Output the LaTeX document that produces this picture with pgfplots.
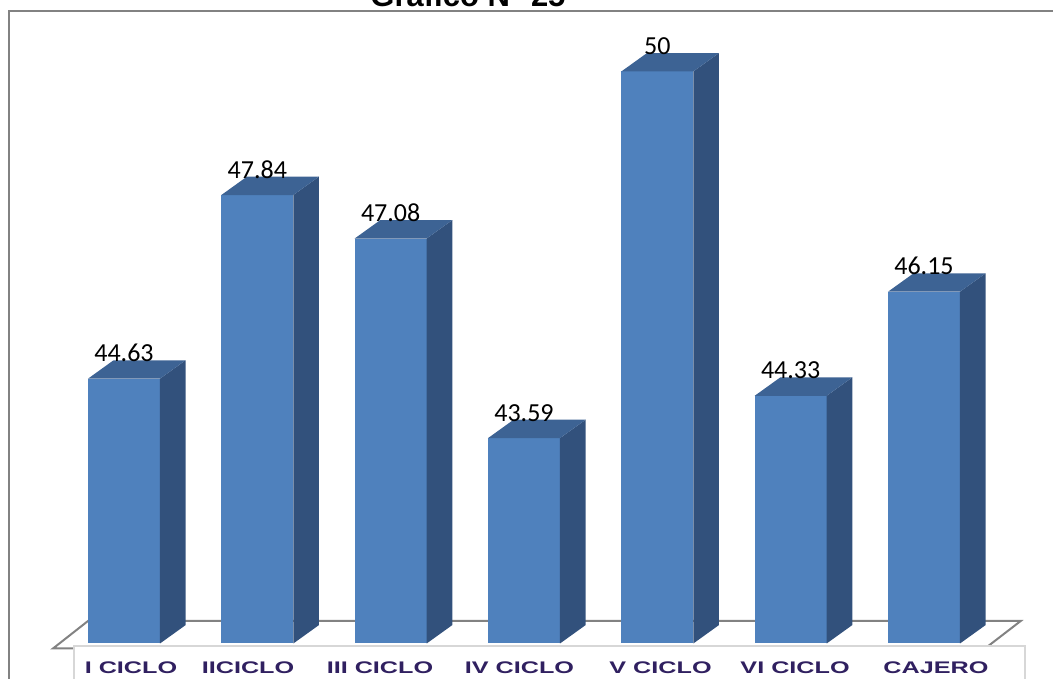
\documentclass[border=0pt]{standalone}
\usepackage{fontspec}
\setmainfont{Carlito}
\newfontfamily\arialfont{Liberation Sans}
\newfontfamily\catfont[FakeStretch=1.5]{Liberation Sans}
\usepackage{pgfplots}
\usepackage{pgfplotstable}
\pgfplotsset{compat=1.18}
\definecolor{frontc}{RGB}{79,129,189}
\definecolor{sidec}{RGB}{50,81,124}
\definecolor{topc}{RGB}{61,99,148}
\definecolor{framec}{RGB}{130,130,130}
\definecolor{boxc}{RGB}{215,215,215}
\definecolor{labelc}{RGB}{48,32,96}
\pgfdeclareplotmark{bar3d}{%
  \pgfmathsetmacro\barh{(\vy-40)*57.2}%
  \pgfmathsetmacro\barhb{18.4-\barh}%
  \pgfsetfillcolor{frontc}%
  \pgfpathrectangle{\pgfpoint{-36pt}{-\barh pt}}{\pgfpoint{72pt}{\barh pt}}\pgfusepath{fill}%
  \pgfsetfillcolor{sidec}%
  \pgfpathmoveto{\pgfpoint{36pt}{-\barh pt}}%
  \pgfpathlineto{\pgfpoint{61.6pt}{\barhb pt}}%
  \pgfpathlineto{\pgfpoint{61.6pt}{18.4pt}}%
  \pgfpathlineto{\pgfpoint{36pt}{0pt}}%
  \pgfpathclose\pgfusepath{fill}%
  \pgfsetfillcolor{topc}%
  \pgfpathmoveto{\pgfpoint{-36pt}{0pt}}%
  \pgfpathlineto{\pgfpoint{-10.4pt}{18.4pt}}%
  \pgfpathlineto{\pgfpoint{61.6pt}{18.4pt}}%
  \pgfpathlineto{\pgfpoint{36pt}{0pt}}%
  \pgfpathclose\pgfusepath{fill}%
}
\pgfplotstableread{
x v
0 44.63
1 47.84
2 47.08
3 43.59
4 50
5 44.33
6 46.15
}\datatable
\begin{document}
\begin{tikzpicture}
\useasboundingbox (0pt,0pt) rectangle (1053pt,679pt);
% frame
\draw[framec, line width=2pt] (9pt,0pt) -- (9pt,668pt) -- (1053pt,668pt);
% title (partly cut off)
\node[anchor=base, inner sep=0pt, font=\arialfont\bfseries\fontsize{31}{31}\selectfont] at (468pt,672pt) {Gráfico N° 25};
% floor
\draw[framec, line width=2pt, line join=miter] (88pt,58pt) -- (1020.7pt,58pt) -- (985pt,30.5pt) -- (53pt,30.5pt) -- cycle;
% label box
\draw[boxc, fill=white, line width=1.5pt] (74pt,-5pt) rectangle (1025pt,33pt);
\begin{axis}[
  at={(0pt,0pt)}, anchor=south west,
  scale only axis, width=1053pt, height=679pt,
  xmin=-0.93, xmax=6.9675,
  ymin=39.3794, ymax=51.25,
  clip=false,
  axis line style={draw=none},
  major tick length=0pt,
  ytick=\empty,
  xtick={0.0525,0.93,1.92,2.966,4.024,5.033,6.09},
  xticklabels={I CICLO,IICICLO,III CICLO,IV CICLO,V CICLO,VI CICLO,CAJERO},
  xticklabel style={anchor=base, yshift=5.7pt, inner sep=0pt, text=labelc,
    font=\catfont\bfseries\fontsize{16.8}{17}\selectfont},
  /pgf/number format/assume math mode=true,
]
\addplot[only marks, mark=bar3d, black,
  visualization depends on={rawy \as \vy},
  point meta=y,
  nodes near coords,
  every node near coord/.append style={anchor=base, yshift=17pt, inner sep=0pt,
    text=black, font=\fontsize{26}{26}\selectfont},
] table[x=x, y=v] {\datatable};
\end{axis}
\end{tikzpicture}
\end{document}
